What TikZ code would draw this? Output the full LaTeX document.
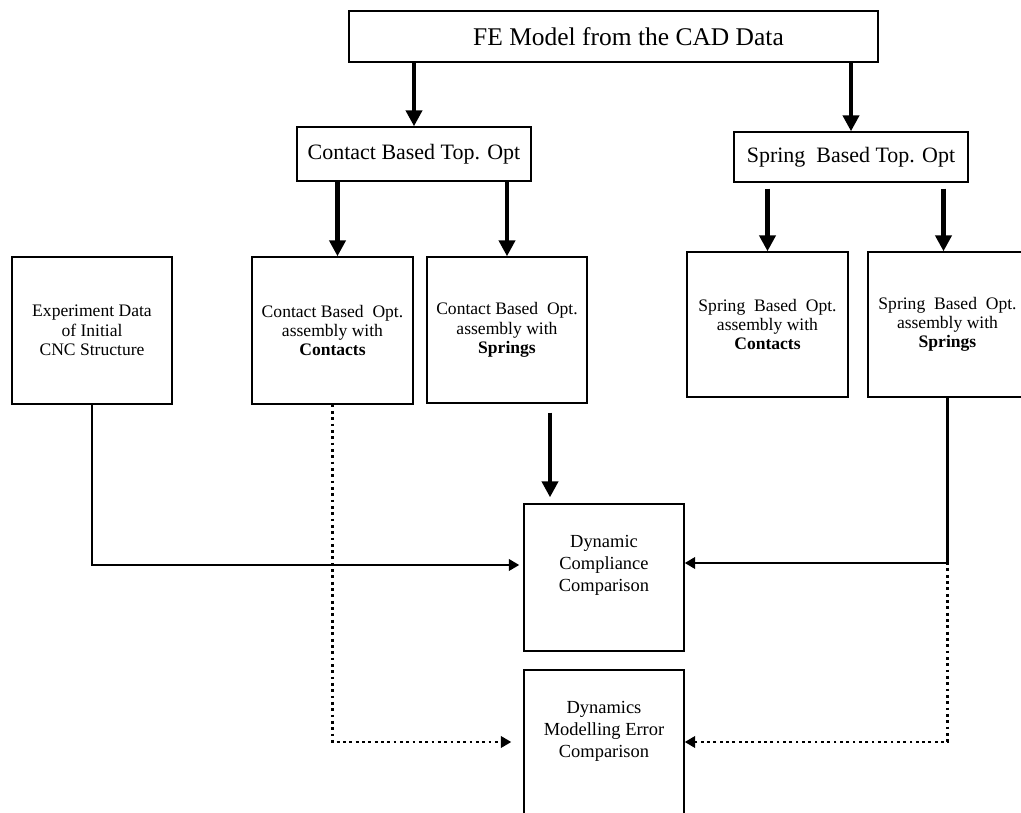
\documentclass[tikz,border=0pt]{standalone}
\usepackage{fontspec}
\setmainfont{Liberation Serif}
\usetikzlibrary{arrows.meta,calc}

\tikzset{
  box/.style={draw, line width=0.8pt, align=center, inner sep=2pt,
    font=\fontsize{10}{11}\selectfont},
  stepbox/.style={box, minimum width=3.22cm, minimum height=2.94cm},
  topbox/.style={box, font=\fontsize{12.5}{14}\selectfont},
  cmpbox/.style={stepbox, minimum width=3.2cm, text depth=0.55cm,
    font=\fontsize{10.5}{12.5}\selectfont},
  bigarrow/.style={line width=2.3pt, -{Triangle[length=9pt,width=9pt]}},
  midarrow/.style={line width=1.5pt, -{Triangle[length=6pt,width=6.5pt]}},
  dotarrow/.style={line width=1.6pt, dotted, -{Triangle[length=6pt,width=6.5pt]}}
}

\begin{document}
\begin{tikzpicture}[x=0.02cm, y=-0.02cm]
\useasboundingbox (0,0) rectangle (1021,813);

% top row
\node[box, font=\fontsize{14.5}{16}\selectfont, minimum width=10.58cm, minimum height=1.02cm] (fe) at (613.5,36.5) {\hspace*{0.6cm}FE Model from the CAD Data};
\node[topbox, minimum width=4.68cm, minimum height=1.08cm] (ctop) at (414,154) {Contact Based Top. Opt};
\node[topbox, minimum width=4.68cm, minimum height=1.0cm] (stop) at (851,157) {Spring\ \ Based Top. Opt};

% the five model boxes
\node[stepbox, minimum width=3.2cm] (ex) at (92,330.5) {Experiment Data\\of Initial\\CNC Structure};
\node[stepbox] (cc) at (332.5,330.5) {Contact Based\ \ Opt.\\assembly with\\\textbf{Contacts}};
\node[stepbox, minimum width=3.2cm, minimum height=2.92cm] (cs) at (507,330) {Contact Based\ \ Opt.\\assembly with\\\textbf{Springs}};
\node[stepbox, minimum height=2.9cm] (sc) at (767.5,324.5) {Spring\ \ Based\ \ Opt.\\assembly with\\\textbf{Contacts}};
\node[stepbox, minimum width=3.18cm, minimum height=2.9cm] (ss) at (947.5,324.5) {Spring\ \ Based\ \ Opt.\\assembly with\\\textbf{Springs}};

% comparisons
\node[cmpbox] (dcc) at (604,577.5) {Dynamic\\Compliance\\Comparison};
\node[cmpbox] (dme) at (604,743.5) {Dynamics\\Modelling Error\\Comparison};

% arrows down
\draw[bigarrow] (fe.south -| ctop.north) -- (ctop.north);
\draw[bigarrow] (fe.south -| stop.north) -- (stop.north);
\draw[bigarrow] ($(ctop.south -| cc.north)+(5,0)$) -- ($(cc.north)+(5,0)$);
\draw[bigarrow] (ctop.south -| cs.north) -- (cs.north);
\draw[bigarrow] ($(stop.south -| sc.north)+(0,6)$) -- (sc.north);
\draw[bigarrow] ($(stop.south -| ss.north)+(-4,6)$) -- ($(ss.north)+(-4,0)$);
\draw[bigarrow] ($(cs.south)+(43,9)$) -- ($(dcc.north -| cs.south)+(43,-6)$);

% dotted feeds
\draw[dotarrow] (cc.south) |- ($(dme.west)+(-12,-1.5)$);
\draw[dotarrow] (ss.south) |- ($(dme.east)+(0,-1.5)$);

% solid feeds
\draw[midarrow] (ex.south) |- ($(dcc.west)+(-4,-12.5)$);
\draw[midarrow] (ss.south) |- ($(dcc.east)+(0,-14.5)$);

\end{tikzpicture}
\end{document}
